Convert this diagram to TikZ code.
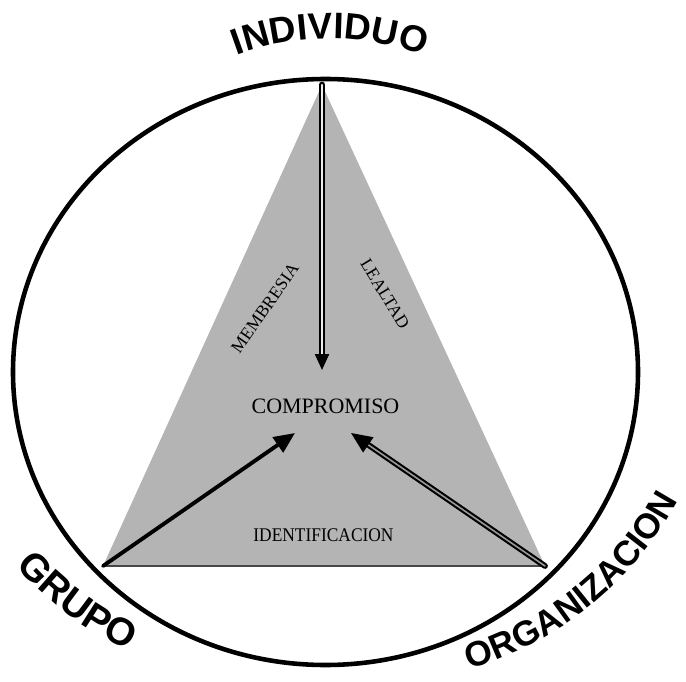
\documentclass[tikz,border=0pt]{standalone}
\usepackage{fontspec}
\setmainfont{Liberation Serif}
\newfontfamily\capsfont{Liberation Sans}
\usetikzlibrary{arrows.meta,decorations.text}
\definecolor{trigray}{RGB}{180,180,180}

\begin{document}
\begin{tikzpicture}[line cap=round,
  smalltext/.style={font=\fontsize{10}{10}\selectfont,inner sep=0pt},
  arclabel/.style={decorate,decoration={text along path,text align=center,text={#1}}},
  bighead/.style={-{Triangle[length=0.42cm,width=0.36cm]}}]
\useasboundingbox (0,0) rectangle (13.72,13.62);
\coordinate (apex) at (6.44,11.92);
\coordinate (grupo) at (2.06,2.30);
\coordinate (org) at (10.90,2.30);
\fill[trigray] (apex) -- (grupo) -- (org) -- cycle;
\draw[gray!55!black,line width=1.2pt] (grupo) -- (org);
\draw[line width=2.6pt] (6.51,6.18) ellipse (6.25 and 5.86);
\node[font=\fontsize{12.5}{12.5}\selectfont,inner sep=0pt] (comp) at (6.51,5.49) {COMPROMISO};
\node[font=\fontsize{11}{11}\selectfont,inner sep=0pt,xscale=0.9] (ident) at (6.47,2.91) {IDENTIFICACION};
\node[smalltext,rotate=55] (memb) at (5.30,7.46) {MEMBRESIA};
\node[smalltext,rotate=-58.6] (leal) at (7.70,7.74) {LEALTAD};
\coordinate (tipI) at (6.44,6.22);
\coordinate (tipG) at (5.90,4.96);
\coordinate (tipO) at (7.02,4.96);
\draw[line width=1.3pt,double=white!85!gray,double distance=1.3pt,-{Triangle[length=0.32cm,width=0.28cm]}] (apex) -- (tipI);
\draw[line width=2.2pt,bighead] (grupo) -- (tipG);
\draw[line width=1.2pt,double=gray!80,double distance=0.9pt,bighead] (org) -- (tipO);
\path[arclabel={|\capsfont\bfseries\fontsize{21}{21}\selectfont|INDIVIDUO}] (6.60,7.55) ++(114:5.3) arc[start angle=114,end angle=66,radius=5.3];
\path[arclabel={|\capsfont\bfseries\fontsize{22}{22}\selectfont|GRUPO}] (5.57,6.93) ++(218:7) arc[start angle=218,end angle=248,radius=7];
\path[arclabel={|\capsfont\bfseries\fontsize{20}{20}\selectfont|ORGANIZACION}] (7.41,6.95) ++(279:7) arc[start angle=279,end angle=339,radius=7];
\end{tikzpicture}
\end{document}
